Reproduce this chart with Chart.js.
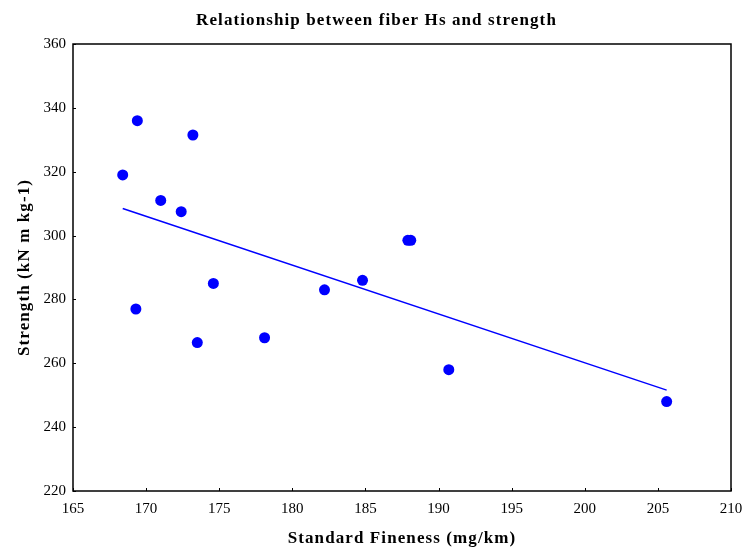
<!DOCTYPE html>
<html>
<head>
<meta charset="utf-8">
<script src="https://cdn.jsdelivr.net/npm/chart.js@4"></script>
<style>
  html, body { margin: 0; padding: 0; background: #fff; }
  #wrap { width: 746px; height: 552px; position: relative; }
</style>
</head>
<body>
<div id="wrap"><canvas id="c" width="746" height="552"></canvas></div>
<script>
const chartTitle = 'Relationship between fiber Hs and strength';
const xTitle = 'Standard Fineness (mg/km)';
const yTitle = 'Strength (kN m kg-1)';

const fineness = [168.4, 169.4, 173.2, 171.0, 172.4, 169.3, 174.6, 173.5, 178.1, 182.2, 184.8, 187.9, 188.1, 190.7, 205.6];
const strength = [319.0, 336.0, 331.5, 311.0, 307.5, 277.0, 285.0, 266.5, 268.0, 283.0, 286.0, 298.5, 298.5, 258.0, 248.0];

const trendX = [168.4, 205.6];
const trendY = [308.5, 251.6];

const xMin = 165, xMax = 210, xStep = 5;
const yMin = 220, yMax = 360, yStep = 20;

const points = fineness.map((x, i) => ({ x: x, y: strength[i] }));
const trend = trendX.map((x, i) => ({ x: x, y: trendY[i] }));

function withSpacing(obj, method, spacing, shiftX) {
  if (!obj || obj['__spaced_' + method]) return;
  const orig = obj[method];
  obj[method] = function (...args) {
    const ctx = this.ctx;
    const prev = ctx.letterSpacing;
    ctx.save();
    if (shiftX) ctx.translate(shiftX, 0);
    ctx.letterSpacing = spacing;
    const r = orig.apply(this, args);
    ctx.restore();
    ctx.letterSpacing = prev;
    return r;
  };
  obj['__spaced_' + method] = true;
}

const titleSpacing = {
  id: 'titleSpacing',
  beforeDraw(chart) {
    withSpacing(chart.titleBlock, 'draw', '1.1px', 11);
    withSpacing(chart.scales.x, 'drawTitle', '1.1px', 0);
    withSpacing(chart.scales.y, 'drawTitle', '1.1px', 0);
  }
};

const frameAndTicks = {
  id: 'frameAndTicks',
  afterDraw(chart) {
    const ctx = chart.ctx;
    const a = chart.chartArea;
    const xs = chart.scales.x, ys = chart.scales.y;
    ctx.save();
    ctx.strokeStyle = '#000';
    ctx.lineWidth = 1.5;
    ctx.strokeRect(a.left, a.top, a.right - a.left, a.bottom - a.top);
    ctx.lineWidth = 1;
    ctx.beginPath();
    xs.ticks.forEach(t => {
      const px = Math.round(xs.getPixelForValue(t.value)) + 0.5;
      ctx.moveTo(px, a.bottom);
      ctx.lineTo(px, a.bottom - 3);
    });
    ys.ticks.forEach(t => {
      const py = Math.round(ys.getPixelForValue(t.value)) + 0.5;
      ctx.moveTo(a.left, py);
      ctx.lineTo(a.left + 3, py);
    });
    ctx.stroke();
    ctx.restore();
  }
};

const titleFont = { family: 'Liberation Serif', size: 17, weight: 'bold', lineHeight: 1.2 };

new Chart(document.getElementById('c'), {
  type: 'scatter',
  data: {
    datasets: [
      {
        label: 'Data',
        data: points,
        backgroundColor: '#0000FF',
        borderColor: '#0000FF',
        pointRadius: 5.5,
        pointHoverRadius: 5.5,
        borderWidth: 0
      },
      {
        label: 'Trend',
        data: trend,
        showLine: true,
        borderColor: '#0000FF',
        borderWidth: 1.5,
        pointRadius: 0,
        fill: false
      }
    ]
  },
  options: {
    responsive: false,
    animation: false,
    devicePixelRatio: 1,
    layout: { padding: { left: 0, right: 15, top: 0, bottom: 0 } },
    plugins: {
      legend: { display: false },
      tooltip: { enabled: false },
      title: {
        display: true,
        text: chartTitle,
        color: '#000',
        font: titleFont,
        padding: { top: 10, bottom: 13.6 }
      }
    },
    scales: {
      x: {
        type: 'linear',
        min: xMin, max: xMax,
        afterFit(s) { s.height = 61; s.paddingRight = 0; s.paddingLeft = 0; },
        grid: { display: true, drawOnChartArea: false, drawTicks: false },
        border: { display: false },
        ticks: {
          stepSize: xStep,
          color: '#000',
          padding: 9,
          font: { family: 'Liberation Serif', size: 15 }
        },
        title: {
          display: true,
          text: xTitle,
          color: '#000',
          font: titleFont,
          padding: { top: 0, bottom: 3 }
        }
      },
      y: {
        type: 'linear',
        min: yMin, max: yMax,
        afterFit(s) { s.width = 73; },
        grid: { display: true, drawOnChartArea: false, drawTicks: false },
        border: { display: false },
        ticks: {
          stepSize: yStep,
          color: '#000',
          padding: 7,
          font: { family: 'Liberation Serif', size: 15 }
        },
        title: {
          display: true,
          text: yTitle,
          color: '#000',
          font: titleFont,
          padding: { top: 14, bottom: 0 }
        }
      }
    }
  },
  plugins: [titleSpacing, frameAndTicks]
});
</script>
</body>
</html>
